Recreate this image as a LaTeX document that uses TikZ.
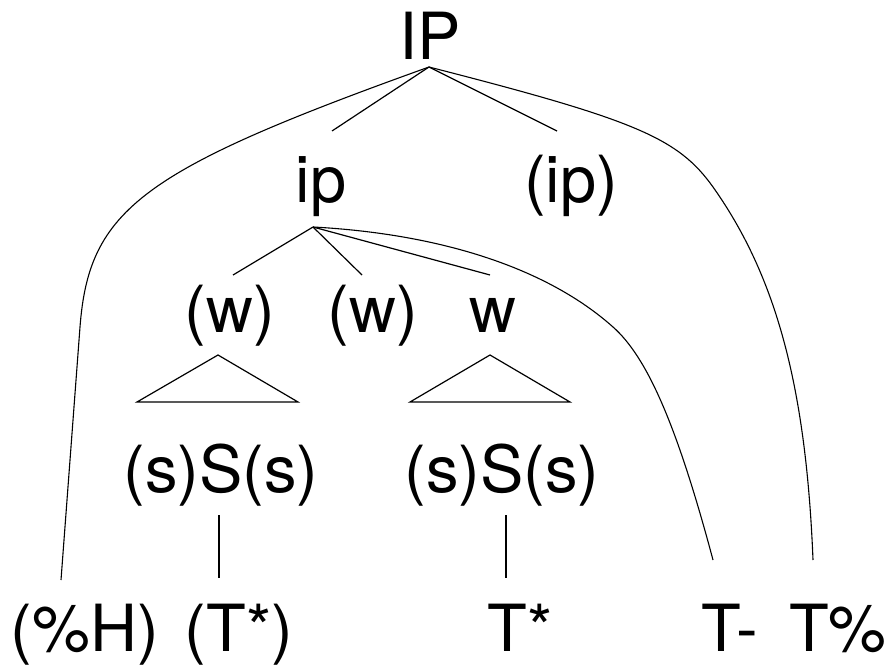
\documentclass[tikz,border=0pt]{standalone}
\usepackage{fontspec}
\setmainfont{TeX Gyre Heros}
\usepackage{tikz}
\tikzstyle{word}=[anchor=base, inner sep=0pt, font=\fontsize{65}{78}\selectfont]
\tikzstyle{branch}=[draw, line width=1.2pt]
\tikzstyle{tone}=[draw, line width=1.1pt]

\begin{document}
\begin{tikzpicture}[x=1pt, y=1pt]

    \useasboundingbox (0,0) rectangle (888,665);

     \foreach \x/\y/\name/\txt in {430/605/IP/IP, 321/462/ip/ip, 571/462/ipo/{(ip)},
            230/333/w1/{(w)}, 373/333/w2/{(w)}, 493/333/w3/w,
            221/173/s1/{(s)S(s)}, 502/173/s2/{(s)S(s)},
            85/14/H/{(\%H)}, 239/14/T1/{(T*)}, 520/14/T2/{T*}, 730/14/Tm/{T-}, 838/14/Tp/{T\%}}
        \node[word] (\name) at (\x, \y) {\txt};

    % feet of the mothers and free ends of the lines
     \foreach \x/\y/\name in {429/598/IPf, 313/438/ipf, 332/534/ipt, 557/534/ipot,
            233/390/w1t, 362/390/w2t, 490/390/w3t,
            219/150/s1f, 219/87/T1t, 506/150/s2f, 506/87/T2t,
            61/85/Ht, 713/105/Tmt, 813/105/Tpt,
            218/310/w1-a, 137/263/w1-l, 298/263/w1-r,
            490/310/w3-a, 410/263/w3-l, 570/263/w3-r}
        \coordinate (\name) at (\x, \y);

    \foreach \source/ \dest in {IPf/ipt, IPf/ipot, ipf/w1t, ipf/w2t, ipf/w3t, s1f/T1t, s2f/T2t}
        \path[branch] (\source) -- (\dest);

    \foreach \t in {w1, w3}
        \path[branch] (\t-a) -- (\t-l) -- (\t-r) -- cycle;

    % tones
    \path[tone] (IPf) .. controls (142,495) and (89,456) .. (80,338) -- (Ht);
    \path[tone] (IPf) .. controls (636,545) and (678,527) .. (713,478) .. controls (776,389) and (806,279) .. (Tpt);
    \path[tone] (ipf) .. controls (443,431) and (548,396) .. (613,338) .. controls (647,308) and (677,240) .. (Tmt);

\end{tikzpicture}
\end{document}
